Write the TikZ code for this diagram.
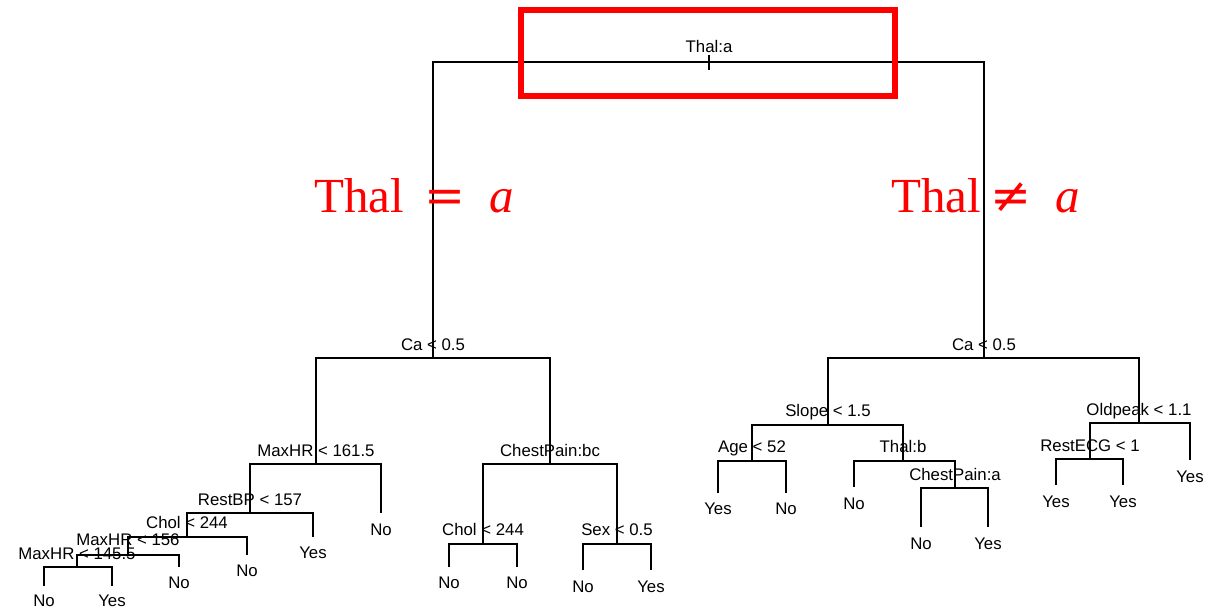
\documentclass[tikz,border=0pt]{standalone}
\usepackage{fontspec}
\setmainfont{Liberation Sans}
\newfontfamily\redserif{Liberation Serif}
\newfontfamily\redsym{DejaVu Serif}
\newcommand{\treelab}{\fontsize{16.8}{18}\selectfont}
\newcommand{\bigred}{\fontsize{49}{50}\selectfont}
\tikzset{
  edge/.style={line width=1.8pt},
  lab/.style={font=\treelab, inner sep=0pt, anchor=base},
  redlab/.style={text=red, inner sep=0pt, font=\bigred},
  hlbox/.style={draw=red, line width=6pt},
}
\begin{document}
\begin{tikzpicture}[x=1pt,y=-1pt]
\useasboundingbox (0,0) rectangle (1209,609);
% split points
\coordinate (r)  at (709,62);
\coordinate (rt) at (709,55);
\coordinate (rb) at (709,70);
\coordinate (L1) at (433,358);
\coordinate (R1) at (984,358);
\coordinate (L2) at (316,464);
\coordinate (L3) at (550,464);
\coordinate (L4) at (250,513);
\coordinate (L5) at (187,537);
\coordinate (L6) at (128,555);
\coordinate (L7) at (77,567);
\coordinate (L8) at (483,544);
\coordinate (L9) at (617,544);
\coordinate (R2) at (828,425);
\coordinate (R3) at (1139,423);
\coordinate (R4) at (752,461);
\coordinate (R5) at (903,461);
\coordinate (R6) at (955,488);
\coordinate (R7) at (1090,459);
% leaf ends
\coordinate (a1) at (381,513);
\coordinate (a2) at (313,537);
\coordinate (a3) at (247,555);
\coordinate (a4) at (179,567);
\coordinate (a5) at (44,586);
\coordinate (a6) at (112,586);
\coordinate (a7) at (449,567);
\coordinate (a8) at (517,567);
\coordinate (a9) at (583,570);
\coordinate (a10) at (651,570);
\coordinate (b1) at (718,493);
\coordinate (b2) at (786,493);
\coordinate (b3) at (854,487);
\coordinate (b4) at (921,527);
\coordinate (b5) at (988,527);
\coordinate (b6) at (1056,485);
\coordinate (b7) at (1123,485);
\coordinate (b8) at (1190,460);
% edges
\draw[edge] (rt) -- (rb);
\draw[edge] (L1) |- (r) -| (R1);
\draw[edge] (L2) |- (L1) -| (L3);
\draw[edge] (L4) |- (L2) -| (a1);
\draw[edge] (L5) |- (L4) -| (a2);
\draw[edge] (L6) |- (L5) -| (a3);
\draw[edge] (L7) |- (L6) -| (a4);
\draw[edge] (a5) |- (L7) -| (a6);
\draw[edge] (L8) |- (L3) -| (L9);
\draw[edge] (a7) |- (L8) -| (a8);
\draw[edge] (a9) |- (L9) -| (a10);
\draw[edge] (R2) |- (R1) -| (R3);
\draw[edge] (R4) |- (R2) -| (R5);
\draw[edge] (b1) |- (R4) -| (b2);
\draw[edge] (b3) |- (R5) -| (R6);
\draw[edge] (b4) |- (R6) -| (b5);
\draw[edge] (R7) |- (R3) -| (b8);
\draw[edge] (b6) |- (R7) -| (b7);
% split labels
\node[lab] (tr)  at (709,53)  {Thal:a};
\node[lab] (tL1) at (433,350) {Ca < 0.5};
\node[lab] (tR1) at (984,350) {Ca < 0.5};
\node[lab] (tL2) at (316,456) {MaxHR < 161.5};
\node[lab] (tL3) at (550,456) {ChestPain:bc};
\node[lab] (tL4) at (250,505) {RestBP < 157};
\node[lab] (tL5) at (187,528) {Chol < 244};
\node[lab] (tL6) at (128,545) {MaxHR < 156};
\node[lab] (tL7) at (77,559)  {MaxHR < 145.5};
\node[lab] (tL8) at (483,535) {Chol < 244};
\node[lab] (tL9) at (617,535) {Sex < 0.5};
\node[lab] (tR2) at (828,416) {Slope < 1.5};
\node[lab] (tR3) at (1139,415) {Oldpeak < 1.1};
\node[lab] (tR4) at (752,452) {Age < 52};
\node[lab] (tR5) at (903,452) {Thal:b};
\node[lab] (tR6) at (955,480) {ChestPain:a};
\node[lab] (tR7) at (1090,451) {RestECG < 1};
% leaf labels
\node[lab] (la1) at (381,535) {No};
\node[lab] (la2) at (313,558) {Yes};
\node[lab] (la3) at (247,576) {No};
\node[lab] (la4) at (179,588) {No};
\node[lab] (la5) at (44,606) {No};
\node[lab] (la6) at (112,606) {Yes};
\node[lab] (la7) at (449,588) {No};
\node[lab] (la8) at (517,588) {No};
\node[lab] (la9) at (583,592) {No};
\node[lab] (la10) at (651,592) {Yes};
\node[lab] (lb1) at (718,514) {Yes};
\node[lab] (lb2) at (786,514) {No};
\node[lab] (lb3) at (854,509) {No};
\node[lab] (lb4) at (921,549) {No};
\node[lab] (lb5) at (988,549) {Yes};
\node[lab] (lb6) at (1056,507) {Yes};
\node[lab] (lb7) at (1123,507) {Yes};
\node[lab] (lb8) at (1190,482) {Yes};
% highlight box
\draw[hlbox] (520.5,10) rectangle (895,96);
% red annotations
\node[redlab, anchor=base west] (eqT) at (314,213) {\redserif Thal};
\node[redlab, anchor=base] (eqS) at (445.5,213) {\redsym =};
\node[redlab, anchor=base] (eqA) at (502,213) {\redserif\itshape a};
\node[redlab, anchor=base west] (neT) at (891,213) {\redserif Thal};
\node[redlab, anchor=base] (neS) at (1011,213) {\redsym ≠};
\node[redlab, anchor=base] (neA) at (1067.5,213) {\redserif\itshape a};
\end{tikzpicture}
\end{document}
